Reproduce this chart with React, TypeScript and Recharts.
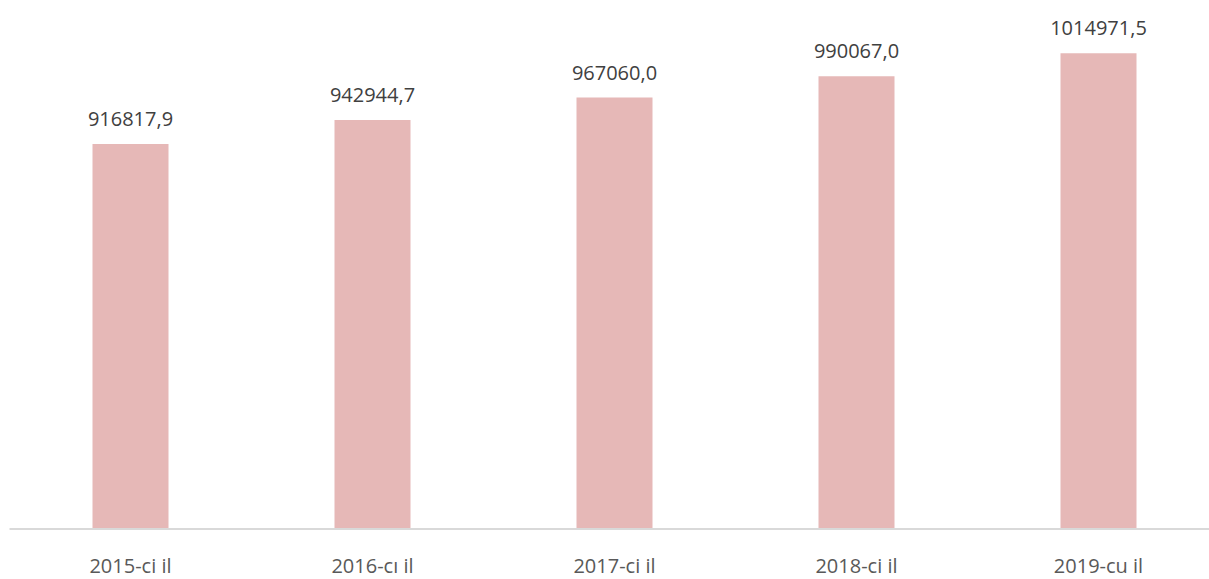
import React from 'react';
import { BarChart, Bar, XAxis, YAxis, LabelList } from 'recharts';

const years = ['2015-ci il', '2016-cı il', '2017-ci il', '2018-ci il', '2019-cu il'];
const values = [916817.9, 942944.7, 967060.0, 990067.0, 1014971.5];

const data = years.map((name, i) => ({ name, value: values[i] }));

const PLOT_BOTTOM = 529;
const FONT = '"Open Sans", "Noto Sans", sans-serif';

const formatValue = (v: any) => Number(v).toFixed(1).replace('.', ',');

const CategoryTick = ({ x, payload }: any) => (
  <text
    x={x}
    y={PLOT_BOTTOM + 44}
    textAnchor="middle"
    fill="#595959"
    fontSize={20}
    fontFamily={FONT}
  >
    {payload.value}
  </text>
);

const App: React.FC = () => {
  return (
    <div style={{ position: 'absolute', left: 0, top: 0, width: 1209, height: 579, overflow: 'hidden', background: '#fff' }}>
      <BarChart
        width={1230}
        height={579}
        data={data}
        margin={{ top: 21, right: 10.5, left: 9.5, bottom: 0 }}
      >
        <XAxis
          dataKey="name"
          height={50}
          tickLine={false}
          axisLine={{ stroke: '#D9D9D9', strokeWidth: 2 }}
          tick={<CategoryTick />}
          interval={0}
        />
        <YAxis hide domain={[500000, 1050000]} allowDataOverflow />
        <Bar dataKey="value" fill="#E6B8B7" barSize={76} isAnimationActive={false}>
          <LabelList
            dataKey="value"
            position="top"
            offset={18}
            formatter={formatValue}
            fill="#404040"
            fontSize={20}
            fontFamily={FONT}
          />
        </Bar>
      </BarChart>
    </div>
  );
};

export default App;
